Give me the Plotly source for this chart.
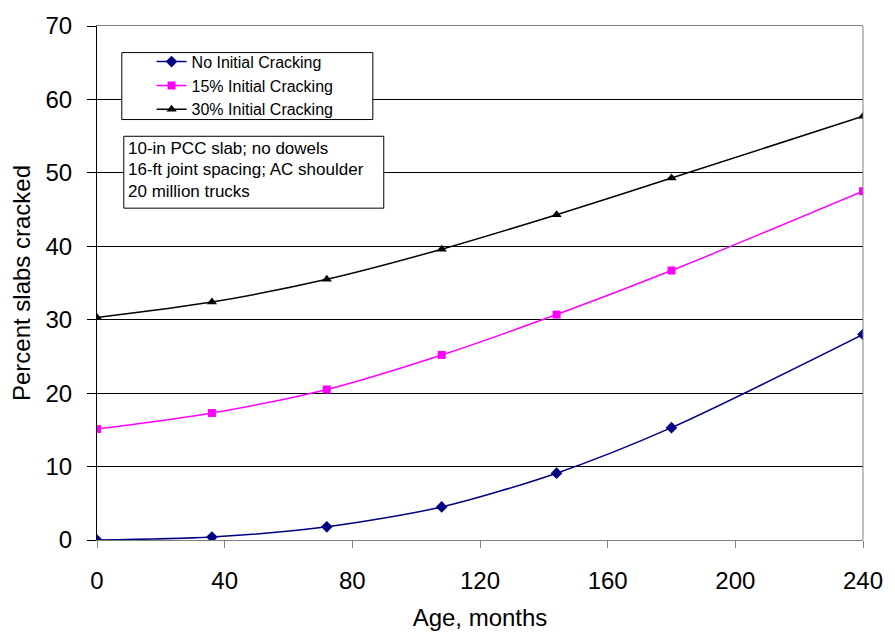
import plotly.graph_objects as go

age_months = [0, 36, 72, 108, 144, 180, 240]
no_initial = [0.0, 0.4, 1.8, 4.5, 9.1, 15.3, 28.0]
initial_15 = [15.1, 17.3, 20.5, 25.2, 30.7, 36.7, 47.5]
initial_30 = [30.3, 32.4, 35.5, 39.6, 44.3, 49.3, 57.7]

series_names = ["No Initial Cracking", "15% Initial Cracking", "30% Initial Cracking"]
x_ticks = [0, 40, 80, 120, 160, 200, 240]
y_ticks = [0, 10, 20, 30, 40, 50, 60, 70]
note_lines = ["10-in PCC slab; no dowels", "16-ft joint spacing; AC shoulder", "20 million trucks"]

FONT = "Liberation Sans, Arial, sans-serif"

# plot-area geometry (pixels)
PL, PR, PT, PB = 97, 869, 18, 540

def px_x(px):
    return (px - PL) * 240 / (PR - PL)

def px_y(py):
    return (PB - py) * 70 / (PB - PT)

fig = go.Figure()
fig.add_trace(go.Scatter(x=age_months, y=no_initial, name=series_names[0], mode="lines+markers",
                         line=dict(color="#000080", width=1.5, shape="spline", smoothing=0.8),
                         marker=dict(symbol="diamond", size=9, color="#000080")))
fig.add_trace(go.Scatter(x=age_months, y=initial_15, name=series_names[1], mode="lines+markers",
                         line=dict(color="#FF00FF", width=1.5, shape="spline", smoothing=0.8),
                         marker=dict(symbol="square", size=8, color="#FF00FF")))
fig.add_trace(go.Scatter(x=age_months, y=initial_30, name=series_names[2], mode="lines+markers",
                         line=dict(color="#000000", width=1.5, shape="spline", smoothing=0.8),
                         marker=dict(symbol="triangle-up", size=9, color="#000000")))

# right border of plot area
fig.add_shape(type="line", xref="paper", yref="paper", x0=1, x1=1, y0=0, y1=1,
              line=dict(color="#808080", width=1), layer="above")

# legend box
fig.add_shape(type="rect", x0=px_x(122), x1=px_x(375), y0=px_y(113), y1=px_y(45),
              line=dict(color="black", width=1), fillcolor="white", layer="above")

# note box
fig.add_shape(type="rect", x0=px_x(124), x1=px_x(386), y0=px_y(203), y1=px_y(130),
              line=dict(color="black", width=1), fillcolor="white", layer="above")
for line_text, py in zip(note_lines, [142, 164, 186]):
    fig.add_annotation(x=px_x(126), y=px_y(py), xanchor="left", yanchor="middle",
                       text=line_text, showarrow=False, align="left",
                       font=dict(family=FONT, size=17, color="black"))

fig.update_layout(
    width=895, height=639,
    margin=dict(l=PL, r=895 - PR, t=PT, b=639 - PB),
    paper_bgcolor="white", plot_bgcolor="white",
    font=dict(family=FONT, color="black"),
    showlegend=True,
    legend=dict(x=(152 - PL) / (PR - PL), y=(PB - 37) / (PB - PT), xanchor="left", yanchor="top",
                borderwidth=0, bgcolor="rgba(0,0,0,0)",
                font=dict(family=FONT, size=16, color="black"),
                itemwidth=30, tracegroupgap=0),
    xaxis=dict(range=[0, 240], tickvals=x_ticks, ticks="outside", ticklen=7, tickcolor="#808080",
               showline=True, linecolor="#808080", linewidth=1, mirror=True,
               showgrid=False, zeroline=False, ticklabelstandoff=12,
               tickfont=dict(family=FONT, size=24, color="black"),
               title=dict(text="Age, months", font=dict(family=FONT, size=24, color="black"), standoff=16)),
    yaxis=dict(range=[0, 70], tickvals=y_ticks, ticks="outside", ticklen=9, tickcolor="black",
               showline=True, linecolor="black", linewidth=1,
               showgrid=True, gridcolor="#000000", gridwidth=1, zeroline=False,
               ticklabelstandoff=10,
               tickfont=dict(family=FONT, size=24, color="black"),
               title=dict(text="Percent slabs cracked", font=dict(family=FONT, size=24, color="black"), standoff=8)),
)

fig.write_html("out.html")
